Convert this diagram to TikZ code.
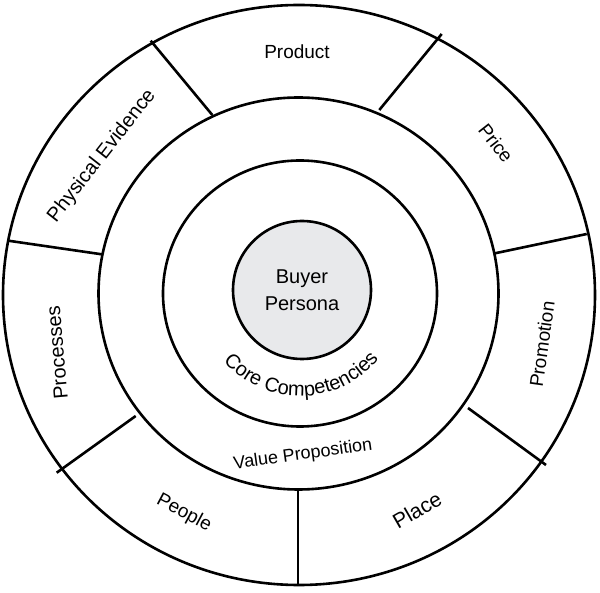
\documentclass[tikz,border=0pt]{standalone}
\usepackage{fontspec}
\setmainfont{Liberation Sans}
\usetikzlibrary{decorations.text}
\definecolor{personagray}{HTML}{E8E9EB}

\begin{document}
\begin{tikzpicture}[x=1pt,y=1pt,
    ring/.style={line width=2.6pt},
    lbl/.style={font=\fontsize{19}{21}\selectfont, inner sep=0pt}]

        \useasboundingbox (0,0) rectangle (600,592);
        \coordinate (c) at (300,298);

        % three rings
        \draw[ring] (299,297) ellipse (296 and 290);
        \draw[ring] (298.5,298.5) ellipse (200 and 196);
        \draw[ring] (300,298.5) ellipse (137 and 133);
        \node[ring, draw, circle, fill=personagray, minimum size=138pt,
              align=center, font=\fontsize{20}{27}\selectfont] (buyer) at (302,302) {Buyer\\Persona};

        % spokes of the outer ring
        \coordinate (o1) at (150.7,551.3); \coordinate (m1) at (212.3,477);
        \coordinate (o2) at (441.7,558);   \coordinate (m2) at (379.3,482);
        \coordinate (o3) at (586.7,358);   \coordinate (m3) at (495,338.7);
        \coordinate (o4) at (8.3,351.3);   \coordinate (m4) at (101.7,337.7);
        \coordinate (o5) at (56.7,119.3);  \coordinate (m5) at (135.7,176);
        \coordinate (o6) at (298,6);       \coordinate (m6) at (298,102.5);
        \coordinate (o7) at (546,127);     \coordinate (m7) at (468,184);
        \foreach \i in {1,...,7}
            \draw[ring] (o\i) -- (m\i);

        \node[lbl] (product) at (297,540) {Product};
        \node[lbl, rotate=-52] (price) at (496,449) {Price};
        \node[lbl, rotate=82] (promotion) at (542,248) {Promotion};
        \node[lbl, rotate=30, font=\fontsize{21}{23}\selectfont] (place) at (417,82) {Place};
        \node[lbl, rotate=-28] (people) at (184,79) {People};
        \node[lbl, rotate=95, font=\fontsize{20}{22}\selectfont] (processes) at (57,239) {Processes};
        \node[lbl, rotate=52, font=\fontsize{20}{22}\selectfont] (physical) at (102,436) {Physical Evidence};
        \node[lbl, rotate=8, font=\fontsize{18}{20}\selectfont] (value) at (303,137) {Value Proposition};

        \path[decorate, decoration={text along path, text align=center,
              text={|\fontsize{20}{22}\selectfont|Core Competencies}}]
            ([shift={(208:102)}]c) arc[start angle=208, end angle=334, radius=102];
    \end{tikzpicture}
\end{document}
